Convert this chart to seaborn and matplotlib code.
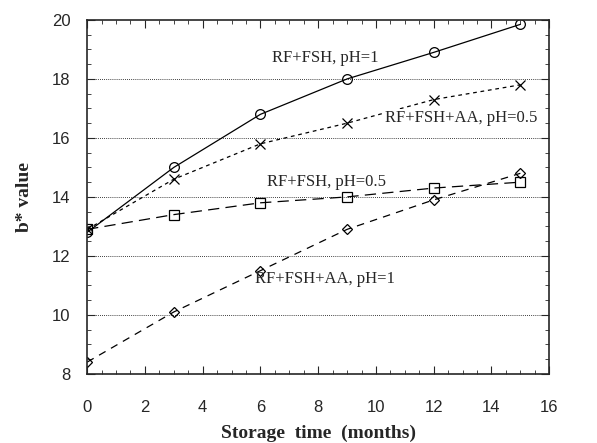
import numpy as np
import pandas as pd
import matplotlib
matplotlib.use("Agg")
import matplotlib.pyplot as plt
import seaborn as sns
from matplotlib.ticker import MultipleLocator

# dados
meses = [0, 3, 6, 9, 12, 15]
rf_fsh_ph1 = [12.8, 15.0, 16.8, 18.0, 18.9, 19.85]
rf_fsh_aa_ph05 = [12.9, 14.6, 15.8, 16.5, 17.3, 17.8]
rf_fsh_ph05 = [12.9, 13.4, 13.8, 14.0, 14.3, 14.5]
rf_fsh_aa_ph1 = [8.4, 10.1, 11.5, 12.9, 13.9, 14.8]

sns.set_style("ticks")
plt.rcParams['font.family'] = ['Liberation Sans', 'DejaVu Sans']

fig = plt.figure(figsize=(5.97, 4.43), dpi=100)
ax = fig.add_axes([0.146, 0.156, 0.774, 0.799])

series = [
    (rf_fsh_ph1, 'o', (None, None), 7),
    (rf_fsh_aa_ph05, 'x', (3, 3), 7),
    (rf_fsh_ph05, 's', (9, 5), 7),
    (rf_fsh_aa_ph1, 'D', (6, 5), 5),
]
for valores, marcador, traco, tam in series:
    df = pd.DataFrame({'mes': meses, 'b': valores})
    linha = sns.lineplot(data=df, x='mes', y='b', ax=ax, color='black', lw=0.9,
                         marker=marcador, markersize=tam, markerfacecolor='none',
                         markeredgecolor='black', markeredgewidth=0.9)
    if traco[0] is not None:
        linha.lines[-1].set_dashes(traco)

ax.set_xlim(0, 16)
ax.set_ylim(8, 20)
ax.xaxis.set_major_locator(MultipleLocator(2))
ax.xaxis.set_minor_locator(MultipleLocator(0.5))
ax.yaxis.set_major_locator(MultipleLocator(2))
ax.yaxis.set_minor_locator(MultipleLocator(0.5))
ax.tick_params(which='both', direction='in', top=True, right=True, labelsize=12)
ax.tick_params(which='major', length=6, width=0.8)
ax.tick_params(which='minor', length=3, width=0.6)
ax.tick_params(axis='x', pad=19)
ax.tick_params(axis='y', pad=12)
for g in [10, 12, 14, 16, 18]:
    ax.axhline(g, color='black', lw=0.6, ls=(0, (1, 1.5)), zorder=0)
for s in ax.spines.values():
    s.set_linewidth(1.2)

serif = ['Liberation Serif', 'DejaVu Serif']
ax.set_xlabel('Storage  time  (months)', family=serif, fontweight='bold', fontsize=14)
ax.set_ylabel('b* value', family=serif, fontweight='bold', fontsize=14)
ax.xaxis.set_label_coords(0.5, -0.144)
ax.yaxis.set_label_coords(-0.117, 0.5)

ax.text(8.25, 18.7, 'RF+FSH, pH=1', family=serif, fontsize=12, ha='center', va='center')
ax.text(12.95, 16.67, 'RF+FSH+AA, pH=0.5', family=serif, fontsize=12, ha='center', va='center',
        bbox=dict(facecolor='white', edgecolor='none', pad=0.5))
ax.text(8.3, 14.5, 'RF+FSH, pH=0.5', family=serif, fontsize=12, ha='center', va='center')
ax.text(8.25, 11.22, 'RF+FSH+AA, pH=1', family=serif, fontsize=12, ha='center', va='center')

fig.savefig('out.png', dpi=100)
